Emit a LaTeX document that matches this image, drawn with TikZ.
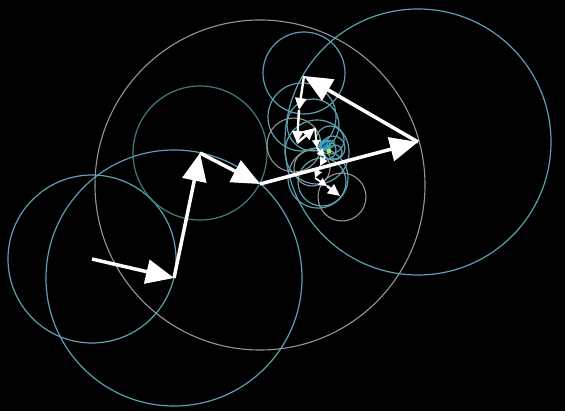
\documentclass[tikz,border=0pt]{standalone}
\usetikzlibrary{arrows.meta}
\definecolor{tealA}{RGB}{92,160,176}
\definecolor{tealB}{RGB}{62,125,130}
\definecolor{greyA}{RGB}{150,150,150}
\definecolor{glow}{RGB}{40,170,220}
\definecolor{pen}{RGB}{190,230,60}
\tikzset{
  ring/.style={draw=tealA, line width=1.2pt},
  dring/.style={draw=tealB, line width=1.2pt},
  gring/.style={draw=greyA, line width=1.1pt},
  bigvec/.style={draw=white, line width=3.5pt, -{Triangle[length=28pt,width=24pt]}},
  midvec/.style={draw=white, line width=2.4pt, -{Triangle[length=12pt,width=11pt]}},
  smallvec/.style={draw=white, line width=1.8pt, -{Triangle[length=8pt,width=8pt]}},
}
\begin{document}
\begin{tikzpicture}[x=1pt,y=-1pt]
\fill[black] (0,0) rectangle (565,411);
\useasboundingbox (0,0) rectangle (565,411);
% chain points
\coordinate (p0) at (92,259);
\coordinate (p1) at (174,278);
\coordinate (p2) at (200,153);
\coordinate (p3) at (260,184);
\coordinate (p4) at (418,142);
\coordinate (p5) at (304,76);
\coordinate (p6) at (299,110);
\coordinate (p7) at (297,143);
\coordinate (p8) at (315,128);
\coordinate (p9) at (317,148);
\coordinate (p10) at (325,157);
\coordinate (p11) at (320,166);
\coordinate (p12) at (315,178);
\coordinate (p13) at (327,186);
\coordinate (p14) at (340,196);
% large circles
\draw[ring] (92,259) circle[radius=84];
\draw[ring] (174,278) circle[radius=128];
\draw[dring] (200,153) circle[radius=67];
\draw[gring] (260,185) circle[radius=165];
\draw[ring] (418,142) circle[radius=133];
% cluster circles
\draw[ring] (304,73) circle[radius=41];
\draw[ring] (302,117) circle[radius=34];
\draw[ring] (313,125) circle[radius=26];
\draw[ring] (317,152) circle[radius=32];
\draw[ring] (318,178) circle[radius=30];
\draw[ring] (322,182) circle[radius=24];
\draw[gring] (294,145) circle[radius=27];
\draw[gring] (342,197) circle[radius=24];
\draw[gring] (312,168) circle[radius=18];
\draw[ring] (330,140) circle[radius=14];
\draw[ring] (333,148) circle[radius=12];
\draw[ring] (327,150) circle[radius=9];
\draw[ring] (335,152) circle[radius=7];
\draw[ring, line width=0.8pt] (325,145) circle[radius=5];
\draw[ring, line width=0.8pt] (331,144) circle[radius=4];
% glow and pen
\fill[glow, opacity=0.45] (325,145) circle[radius=6];
\fill[glow, opacity=0.6] (327,148) circle[radius=4];
\fill[pen] (329,151) circle[radius=2.5];
% vectors
\draw[bigvec] (p0) -- (p1);
\draw[bigvec] (p1) -- (p2);
\draw[bigvec] (p2) -- (p3);
\draw[bigvec] (p3) -- (p4);
\draw[bigvec] (p4) -- (p5);
\draw[midvec] (p5) -- (p6);
\draw[midvec] (p6) -- (p7);
\draw[midvec] (p7) -- (p8);
\draw[smallvec] (p8) -- (p9);
\draw[smallvec] (p9) -- (p10);
\draw[smallvec] (p10) -- (p11);
\draw[smallvec] (p11) -- (p12);
\draw[smallvec] (p12) -- (p13);
\draw[midvec] (p13) -- (p14);
\end{tikzpicture}
\end{document}
